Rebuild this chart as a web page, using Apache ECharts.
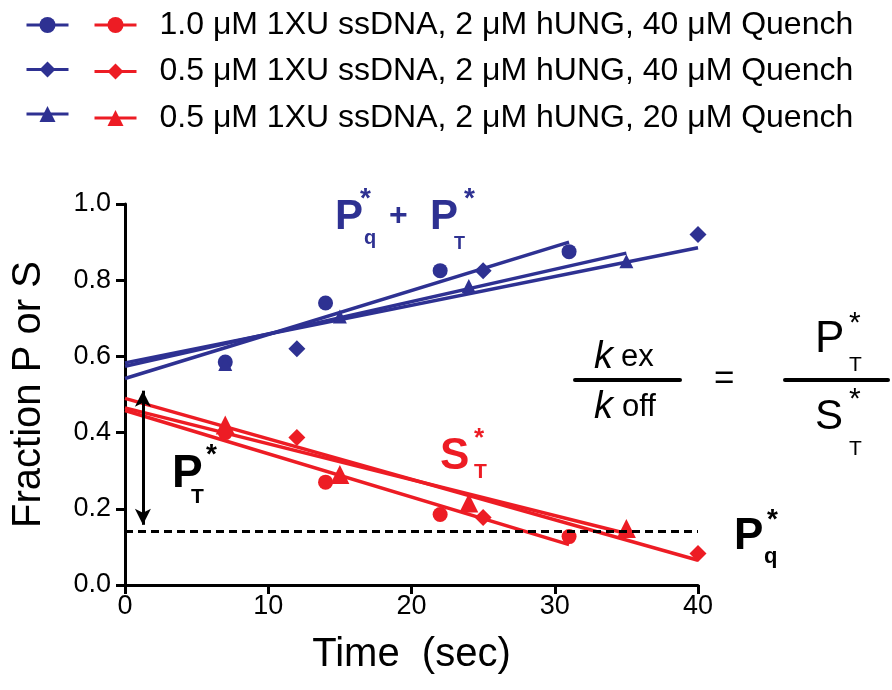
<!DOCTYPE html>
<html>
<head>
<meta charset="utf-8">
<script src="https://cdn.jsdelivr.net/npm/echarts@6/dist/echarts.min.js"></script>
<style>
  html, body { margin: 0; padding: 0; background: #fff; }
  #main { width: 892px; height: 690px; }
</style>
</head>
<body>
<div id="main"></div>
<script>
// data
var labels = [
  '1.0 μM 1XU ssDNA, 2 μM hUNG, 40 μM Quench',
  '0.5 μM 1XU ssDNA, 2 μM hUNG, 40 μM Quench',
  '0.5 μM 1XU ssDNA, 2 μM hUNG, 20 μM Quench'
];
var xTicks = [0, 10, 20, 30, 40];
var yTicks = [0.0, 0.2, 0.4, 0.6, 0.8, 1.0];

// product (blue) points
var blueCircleX = [7, 14, 22, 31];
var blueCircleY = [0.585, 0.74, 0.825, 0.875];
var blueDiamondX = [12, 25, 40];
var blueDiamondY = [0.62, 0.825, 0.92];
var blueTriangleX = [7, 15, 24, 35];
var blueTriangleY = [0.58, 0.705, 0.785, 0.85];

// substrate (red) points
var redCircleX = [7, 14, 22, 31];
var redCircleY = [0.40, 0.27, 0.185, 0.127];
var redDiamondX = [12, 25, 40];
var redDiamondY = [0.387, 0.177, 0.083];
var redTriangleX = [7, 15, 24, 35];
var redTriangleY = [0.42, 0.29, 0.215, 0.148];

// fitted lines: [x0, x1] and [y0, y1]
var blueCircleFit = [[0, 31], [0.542, 0.90]];
var blueDiamondFit = [[0, 40], [0.583, 0.885]];
var blueTriangleFit = [[0, 35], [0.574, 0.871]];
var redCircleFit = [[0, 31], [0.458, 0.106]];
var redDiamondFit = [[0, 40], [0.49, 0.065]];
var redTriangleFit = [[0, 35], [0.465, 0.135]];

var quenchLevel = 0.14;      // dashed P*q level
var arrowSpan = [1.25, 0.158, 0.51]; // x, y bottom, y top

var BLUE = '#2e3192';
var RED = '#ed1c24';
var FONT = '"Liberation Sans", Arial, Helvetica, sans-serif';

function pairs(xs, ys) {
  return xs.map(function (x, i) { return [x, ys[i]]; });
}

function pointSeries(name, xs, ys, color, symbol, size) {
  return {
    name: name,
    type: 'line',
    data: pairs(xs, ys),
    symbol: symbol,
    symbolSize: size,
    showSymbol: true,
    itemStyle: { color: color },
    lineStyle: { color: color, width: 3, opacity: 0 },
    z: 4,
    silent: true
  };
}

function fitSeries(fit, color) {
  return {
    type: 'line',
    data: pairs(fit[0], fit[1]),
    symbol: 'none',
    lineStyle: { color: color, width: 3.5 },
    z: 3,
    silent: true
  };
}

function txt(x, y, s, size, color, weight, style) {
  return {
    type: 'text', x: x, y: y, silent: true,
    style: {
      text: s, fontSize: size, fontWeight: weight || 'normal',
      fontStyle: style || 'normal', fontFamily: FONT,
      fill: color || '#000', align: 'left', verticalAlign: 'top'
    }
  };
}

function bar(x1, x2, y) {
  return {
    type: 'line', silent: true,
    shape: { x1: x1, y1: y, x2: x2, y2: y },
    style: { stroke: '#000', lineWidth: 4, lineCap: 'round' }
  };
}

var blueNames = labels.map(function (l) { return l + ' '; });

var series = [
  fitSeries(blueCircleFit, BLUE),
  fitSeries(blueDiamondFit, BLUE),
  fitSeries(blueTriangleFit, BLUE),
  fitSeries(redCircleFit, RED),
  fitSeries(redDiamondFit, RED),
  fitSeries(redTriangleFit, RED),
  pointSeries(blueNames[0], blueCircleX, blueCircleY, BLUE, 'circle', 15),
  pointSeries(blueNames[1], blueDiamondX, blueDiamondY, BLUE, 'diamond', 17),
  pointSeries(blueNames[2], blueTriangleX, blueTriangleY, BLUE, 'triangle', 14),
  pointSeries(labels[0], redCircleX, redCircleY, RED, 'circle', 15),
  pointSeries(labels[1], redDiamondX, redDiamondY, RED, 'diamond', 17),
  pointSeries(labels[2], redTriangleX, redTriangleY, RED, 'triangle', 19)
];

// dashed P*q level and the double arrow for P*T
series.push({
  type: 'line', data: [], silent: true, z: 2,
  markLine: {
    silent: true, symbol: 'none', label: { show: false },
    lineStyle: { color: '#000', width: 3, type: [8, 5] },
    data: [[{ coord: [0, quenchLevel] }, { coord: [40, quenchLevel] }]]
  }
});
series.push({
  type: 'line', data: [], silent: true, z: 2,
  markLine: {
    silent: true, symbol: 'none', label: { show: false },
    lineStyle: { color: '#000', width: 3, type: 'solid' },
    data: [[{ coord: [-0.85, quenchLevel] }, { coord: [0, quenchLevel] }]]
  }
});
series.push({
  type: 'line', data: [], silent: true, z: 2,
  markLine: {
    silent: true, symbol: ['arrow', 'arrow'], symbolSize: [12, 16],
    label: { show: false },
    lineStyle: { color: '#000', width: 3, type: 'solid' },
    data: [[{ coord: [arrowSpan[0], arrowSpan[1]] }, { coord: [arrowSpan[0], arrowSpan[2]] }]]
  }
});

var legendCommon = {
  orient: 'vertical', itemWidth: 42, itemHeight: 20,
  selectedMode: false, padding: 0,
  lineStyle: { width: 3, opacity: 1 }
};

var option = {
  animation: false,
  backgroundColor: '#fff',
  textStyle: { fontFamily: FONT },
  legend: [
    Object.assign({}, legendCommon, {
      data: blueNames, left: 25, top: 15, itemGap: 26.5,
      formatter: function () { return ''; }
    }),
    Object.assign({}, legendCommon, {
      data: labels, left: 93, top: 9, itemGap: 14.5,
      textStyle: { fontSize: 32, color: '#000', fontFamily: FONT, padding: [0, 0, 0, 18] }
    })
  ],
  grid: { left: 125, right: 194, top: 204, bottom: 105, containLabel: false },
  xAxis: {
    type: 'value', min: xTicks[0], max: xTicks[xTicks.length - 1], interval: 10,
    name: 'Time  (sec)', nameLocation: 'middle', nameGap: 50,
    nameTextStyle: { fontSize: 40, color: '#000', fontFamily: FONT },
    axisLine: { lineStyle: { color: '#000', width: 3 } },
    axisTick: { length: 9, lineStyle: { color: '#000', width: 3 } },
    axisLabel: { fontSize: 27, color: '#000', margin: 8, fontFamily: FONT },
    splitLine: { show: false }
  },
  yAxis: {
    type: 'value', min: yTicks[0], max: yTicks[yTicks.length - 1], interval: 0.2,
    name: 'Fraction P or S', nameLocation: 'middle', nameGap: 76,
    nameTextStyle: { fontSize: 40, color: '#000', fontFamily: FONT },
    axisLine: { lineStyle: { color: '#000', width: 3 } },
    axisTick: { length: 9, lineStyle: { color: '#000', width: 3 } },
    axisLabel: {
      fontSize: 27, color: '#000', margin: 14, fontFamily: FONT,
      formatter: function (v) { return v.toFixed(1); }
    },
    splitLine: { show: false }
  },
  graphic: [
    // P*q + P*T (blue)
    txt(335, 196, 'P', 42, BLUE, 'bold'),
    txt(360, 185, '*', 28, BLUE, 'bold'),
    txt(364, 228, 'q', 20, BLUE, 'bold'),
    txt(389, 200, '+', 32, BLUE, 'bold'),
    txt(430, 196, 'P', 42, BLUE, 'bold'),
    txt(464, 185, '*', 28, BLUE, 'bold'),
    txt(454, 235, 'T', 18, BLUE, 'bold'),
    // S*T (red)
    txt(440, 435, 'S', 44, RED, 'bold'),
    txt(474, 426, '*', 26, RED, 'bold'),
    txt(474, 462, 'T', 21, RED, 'bold'),
    // P*T (left)
    txt(172, 451, 'P', 46, '#000', 'bold'),
    txt(206, 441, '*', 28, '#000', 'bold'),
    txt(191, 487, 'T', 21, '#000', 'bold'),
    // P*q (right)
    txt(734, 515, 'P', 44, '#000', 'bold'),
    txt(767, 506, '*', 28, '#000', 'bold'),
    txt(764, 546, 'q', 22, '#000', 'bold'),
    // kex / koff = P*T / S*T
    txt(594, 338, 'k', 38, '#000', 'normal', 'italic'),
    txt(621, 342, 'ex', 31),
    bar(575, 680, 380),
    txt(594, 388, 'k', 38, '#000', 'normal', 'italic'),
    txt(622, 392, 'off', 31),
    txt(714, 362, '=', 35),
    txt(815, 318, 'P', 44),
    txt(849, 309, '*', 30),
    txt(849, 355, 'T', 21),
    bar(785, 888, 380),
    txt(815, 396, 'S', 42),
    txt(849, 385, '*', 30),
    txt(849, 439, 'T', 21)
  ],
  series: series
};

var chart = echarts.init(document.getElementById('main'));
chart.setOption(option);
</script>
</body>
</html>
